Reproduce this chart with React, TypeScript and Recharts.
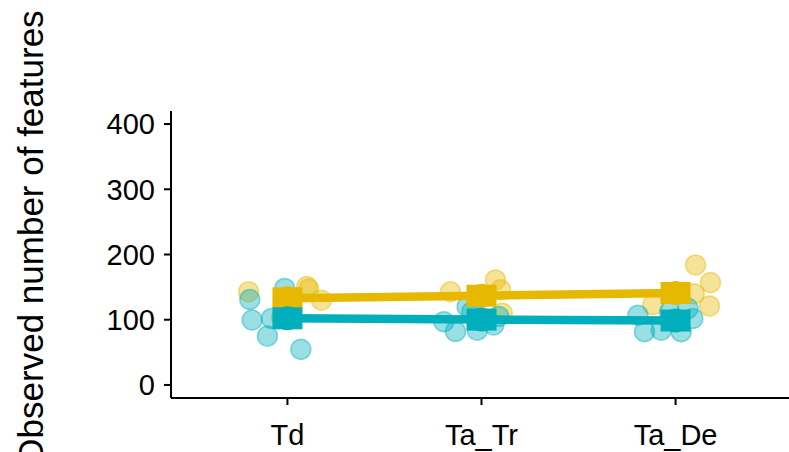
import React from "react";
import { ScatterChart, Scatter, XAxis, YAxis } from "recharts";

const categories = ["Td", "Ta_Tr", "Ta_De"];
const yTicks = [0, 100, 200, 300, 400];

// jittered observations (x = category index + jitter)
const yellowX = [0.8, 1.1, 1.11, 1.175, 0.97, 1.84, 2.072, 2.098, 2.107, 2.883, 3.096, 3.103, 3.18, 3.175];
const yellowY = [143, 151, 147, 130, 104, 143, 161, 146, 110, 123, 140, 184, 157, 121];
const tealX = [0.806, 0.986, 0.818, 0.918, 0.897, 1.069, 1.806, 1.866, 1.926, 1.978, 2.063, 2.089, 1.95, 2.806, 2.84, 2.926, 2.969, 3.029, 3.089, 3.064];
const tealY = [131, 148, 99.6, 102, 75, 54.7, 97, 82, 120, 84, 92, 105, 112, 107, 81.7, 84, 112, 81.7, 102, 117.5];

// group means
const yellowMeans = [132.9, 136.8, 141];
const tealMeans = [102.2, 100.2, 98.8];

const YELLOW = "#E7B800";
const TEAL = "#00AFBB";
const FONT = "'Liberation Sans', Arial, Helvetica, sans-serif";

const yellowPts = yellowX.map((x, i) => ({ x, y: yellowY[i] }));
const tealPts = tealX.map((x, i) => ({ x, y: tealY[i] }));
const yellowMeanPts = yellowMeans.map((y, i) => ({ x: i + 1, y }));
const tealMeanPts = tealMeans.map((y, i) => ({ x: i + 1, y }));

const dot = (color: string) => (p: any) => (
  <circle cx={p.cx} cy={p.cy} r={10} fill={color} fillOpacity={0.4} stroke={color} strokeOpacity={0.45} strokeWidth={1.5} />
);

const meanMark = (color: string) => (p: any) => (
  <g>
    <rect x={p.cx - 15} y={p.cy - 11} width={30} height={22} fill={color} />
    <circle cx={p.cx} cy={p.cy} r={12} fill={color} />
  </g>
);

const TitleLabel = () => (
  <text
    x={43}
    y={238}
    transform="rotate(-90 43 238)"
    textAnchor="middle"
    fontSize={35}
    fontFamily={FONT}
    fill="#000"
  >
    Observed number of features
  </text>
);

export default function App() {
  return (
    <div style={{ position: "absolute", left: 0, top: 0, background: "#fff" }}>
      <ScatterChart width={795} height={452} margin={{ top: 111, right: 3, bottom: 0, left: 0 }}>
        <XAxis
          dataKey="x"
          type="number"
          domain={[0.4, 3.6]}
          allowDataOverflow
          ticks={[1, 2, 3]}
          interval={0}
          tickFormatter={(v: number) => categories[v - 1]}
          height={54}
          axisLine={{ stroke: "#000", strokeWidth: 2 }}
          tickLine={{ stroke: "#000", strokeWidth: 2 }}
          tickSize={7}
          tickMargin={19}
          tick={{ fill: "#000", fontSize: 29, fontFamily: FONT }}
        />
        <YAxis
          dataKey="y"
          type="number"
          domain={[-20, 420]}
          allowDataOverflow
          ticks={yTicks}
          interval={0}
          width={171}
          axisLine={{ stroke: "#000", strokeWidth: 2 }}
          tickLine={{ stroke: "#000", strokeWidth: 2 }}
          tickSize={7}
          tickMargin={9}
          tick={{ fill: "#000", fontSize: 29, fontFamily: FONT }}
          label={{ content: () => <TitleLabel /> }}
        />
        <Scatter data={yellowPts} shape={dot(YELLOW)} isAnimationActive={false} />
        <Scatter data={tealPts} shape={dot(TEAL)} isAnimationActive={false} />
        <Scatter
          data={yellowMeanPts}
          shape={meanMark(YELLOW)}
          line={{ stroke: YELLOW, strokeWidth: 8.5 }}
          isAnimationActive={false}
        />
        <Scatter
          data={tealMeanPts}
          shape={meanMark(TEAL)}
          line={{ stroke: TEAL, strokeWidth: 8.5 }}
          isAnimationActive={false}
        />
      </ScatterChart>
    </div>
  );
}
